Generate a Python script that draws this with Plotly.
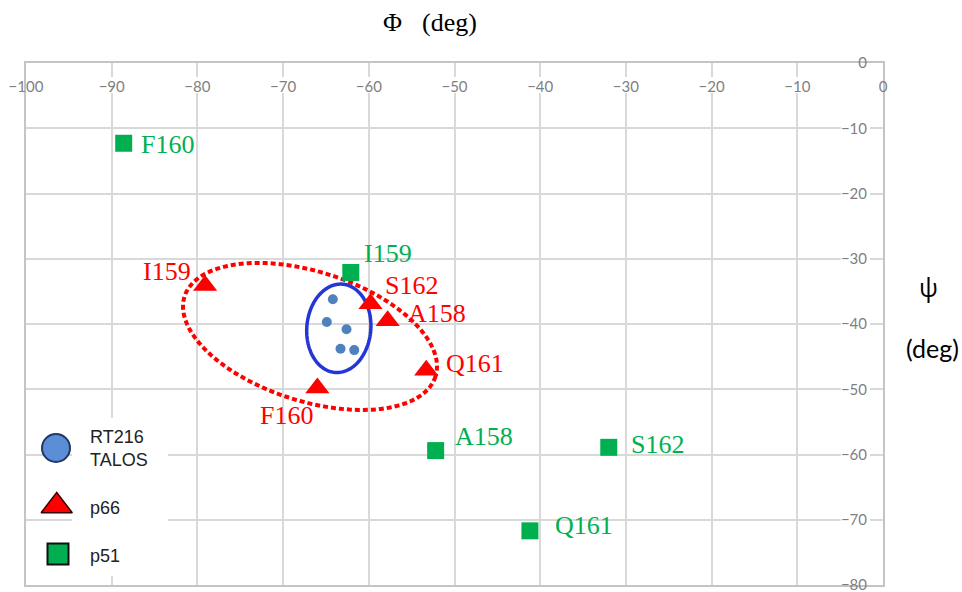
import numpy as np
import plotly.graph_objects as go

# RT216 backbone angles predicted by TALOS (deg)
talos_phi = [-64.2, -64.9, -62.6, -63.3, -61.7]
talos_psi = [-36.2, -39.7, -40.8, -43.8, -44.0]

# p66 subunit residues
p66_res = ["I159", "S162", "A158", "Q161", "F160"]
p66_phi = [-79.1, -59.8, -57.8, -53.3, -66.0]
p66_psi = [-34.1, -36.9, -39.5, -47.1, -49.8]

# p51 subunit residues
p51_res = ["F160", "I159", "A158", "S162", "Q161"]
p51_phi = [-88.6, -62.1, -52.2, -32.0, -41.2]
p51_psi = [-12.3, -32.1, -59.4, -58.9, -71.7]

phi_ticks = list(range(-100, 1, 10))
psi_ticks = list(range(-80, 1, 10))

# label placement (x shift px, y shift px, x anchor)
p66_label_pos = [(-12, 14, "right"), (12, 18, "left"), (18, 7, "left"),
                 (18, 7, "left"), (-31, -28, "center")]
p51_label_pos = [(15, -1, "left"), (11, 19, "left"), (17, 14, "left"),
                 (20, 3, "left"), (23, 5, "left")]

W, H = 962, 592
M = dict(l=26, r=79, t=63, b=7)
plot_w = W - M["l"] - M["r"]
plot_h = H - M["t"] - M["b"]
X_RANGE = [-100, 0]
Y_RANGE = [-80, 0]
ppx = plot_w / (X_RANGE[1] - X_RANGE[0])
ppy = plot_h / (Y_RANGE[1] - Y_RANGE[0])

RED = "#ff0000"
GREEN = "#00b050"
BLUE_DOT = "#4f81bd"
GRID = "#d9d9d9"
TICK_FONT = dict(family="Lato", size=15, color="#7f7f7f")


def px_to_data(px, py):
    """Convert a page pixel position to data coordinates."""
    return (X_RANGE[0] + (px - M["l"]) / ppx, Y_RANGE[1] - (py - M["t"]) / ppy)


def ellipse_path(cx, cy, a_px, b_px, tilt_deg, n=160):
    """Closed SVG path (data coords) for an ellipse given in screen pixels."""
    t = np.linspace(0, 2 * np.pi, n, endpoint=False)
    th = np.radians(tilt_deg)
    ex, ey = a_px * np.cos(t), b_px * np.sin(t)
    sx = ex * np.cos(th) - ey * np.sin(th)
    sy = ex * np.sin(th) + ey * np.cos(th)
    xs = cx + sx / ppx
    ys = cy - sy / ppy
    return "M " + " L ".join(f"{x:.3f},{y:.3f}" for x, y in zip(xs, ys)) + " Z"


fig = go.Figure()

fig.add_trace(go.Scatter(x=talos_phi, y=talos_psi, mode="markers",
                         marker=dict(size=10, color=BLUE_DOT), showlegend=False))
fig.add_trace(go.Scatter(x=p66_phi, y=p66_psi, mode="markers",
                         marker=dict(symbol="triangle-up", size=21, color=RED),
                         showlegend=False))
fig.add_trace(go.Scatter(x=p51_phi, y=p51_psi, mode="markers",
                         marker=dict(symbol="square", size=17, color=GREEN),
                         showlegend=False))

# residue labels
for names, xs, ys, pos, col in [(p66_res, p66_phi, p66_psi, p66_label_pos, RED),
                                (p51_res, p51_phi, p51_psi, p51_label_pos, GREEN)]:
    for name, x, y, (dx, dy, anc) in zip(names, xs, ys, pos):
        fig.add_annotation(x=x, y=y, xref="x", yref="y", text=name, showarrow=False,
                           xanchor=anc, yanchor="middle", xshift=dx, yshift=dy,
                           font=dict(family="Liberation Serif", size=26, color=col))

shapes = []
# white backing behind tick labels so gridlines stop short of the text
for v in phi_ticks:
    half = (len(str(v)) * 8.4 + 4) / 2
    shapes.append(dict(type="rect", xref="x", yref="y", layer="between",
                       x0=v - half / ppx, x1=v + half / ppx,
                       y0=-14 / ppy, y1=-30 / ppy,
                       fillcolor="white", line=dict(width=0)))
for v in psi_ticks:
    w = len(str(v)) * 8.4 + 4
    shapes.append(dict(type="rect", xref="x", yref="y", layer="between",
                       x0=-(13 + w) / ppx, x1=-13 / ppx,
                       y0=v - 8 / ppy, y1=v + 8 / ppy,
                       fillcolor="white", line=dict(width=0)))
# legend panel
lx0, ly0 = px_to_data(72, 576)
lx1, ly1 = px_to_data(168, 418)
shapes.append(dict(type="rect", xref="x", yref="y", layer="between",
                   x0=lx0, x1=lx1, y0=ly0, y1=ly1,
                   fillcolor="white", line=dict(width=0)))
# p66 cluster (dotted) and TALOS cluster (solid)
shapes.append(dict(type="path", xref="x", yref="y", layer="between",
                   path=ellipse_path(-66.86, -41.91, 131.7, 64.7, 17.7),
                   line=dict(color=RED, width=4, dash="5px,3px")))
shapes.append(dict(type="path", xref="x", yref="y", layer="between",
                   path=ellipse_path(-63.5, -40.66, 32, 44.3, 5),
                   line=dict(color="#2436d6", width=3.5)))

# legend keys (page pixel placement)
leg_items = [("RT216<br>TALOS", 56, 448, 448,
              dict(size=28, color="#5b8ed6", line=dict(color="#1f3864", width=2))),
             ("p66", 56.7, 506, 508,
              dict(symbol="triangle-up", size=27, color=RED, line=dict(color="#3a0000", width=1.5))),
             ("p51", 58, 554, 556,
              dict(symbol="square", size=21, color=GREEN, line=dict(color="#111111", width=2)))]
for txt, mx, my, ty, mk in leg_items:
    kx, ky = px_to_data(mx, my)
    fig.add_trace(go.Scatter(x=[kx], y=[ky], mode="markers", marker=mk,
                             showlegend=False, hoverinfo="skip"))
    fig.add_annotation(x=(88 - M["l"]) / plot_w, y=1 - (ty - M["t"]) / plot_h,
                       xref="paper", yref="paper", text=txt, showarrow=False,
                       xanchor="left", yanchor="middle", align="left",
                       font=dict(family="Liberation Sans", size=18, color="#222222"))

# axis titles
for txt, px, py, fam, size in [("Φ", 392, 22, "Liberation Serif", 26),
                               ("(deg)", 449, 22, "Liberation Serif", 26),
                               ("ψ", 928, 287, "Open Sans", 25),
                               ("(deg)", 932, 348, "Lato", 25)]:
    fig.add_annotation(x=(px - M["l"]) / plot_w, y=1 - (py - M["t"]) / plot_h,
                       xref="paper", yref="paper", text=txt, showarrow=False,
                       xanchor="center", yanchor="middle",
                       font=dict(family=fam, size=size, color="black"))

axis_common = dict(showgrid=True, gridcolor=GRID, gridwidth=2, zeroline=False,
                   showline=True, linecolor="#c4c4c4", linewidth=2, mirror=True,
                   ticks="", ticklabelposition="inside", ticklabeloverflow="allow",
                   tickfont=TICK_FONT, fixedrange=True, automargin=False)

fig.update_layout(
    width=W, height=H, margin=dict(M, autoexpand=False),
    paper_bgcolor="white", plot_bgcolor="white",
    shapes=shapes,
    xaxis=dict(range=X_RANGE, side="top", tickvals=phi_ticks, ticklabelstandoff=18, **axis_common),
    yaxis=dict(range=Y_RANGE, side="right", tickvals=psi_ticks, ticklabelstandoff=16, **axis_common),
    showlegend=False,
)

fig.write_html("out.html")
